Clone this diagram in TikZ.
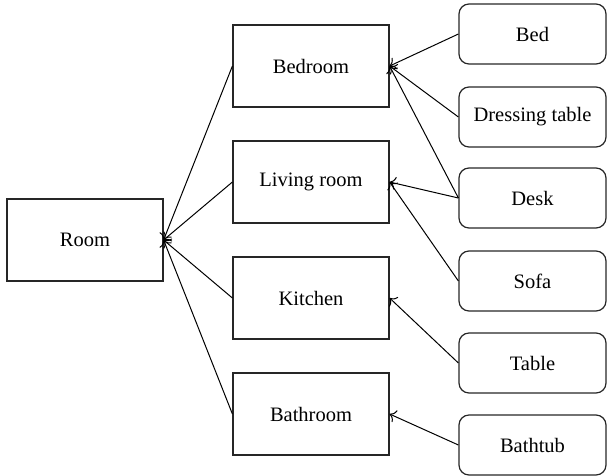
\documentclass[tikz,border=0pt]{standalone}
\usepackage{fontspec}
\setmainfont{Liberation Serif}
\usetikzlibrary{arrows.meta}
\begin{document}
\begin{tikzpicture}[x=1pt,y=-1pt,
  font=\fontsize{20.5}{24}\selectfont,
  roombox/.style={draw=black!85, line width=1.2pt, minimum width=156pt, minimum height=82pt, inner sep=0pt},
  itembox/.style={draw=black!85, line width=1.2pt, rounded corners=10pt, minimum width=147pt, minimum height=60pt, inner sep=0pt},
  link/.style={draw=black, line width=1pt, -{To[length=6pt,width=13pt]}}]
\useasboundingbox (0,0) rectangle (608,475);

% category on the left
\node[roombox] (room) at (85,240) {Room};

% rooms
\node[roombox] (bedroom)  at (311,66)  {Bedroom};
\node[roombox] (living)   at (311,182) {Living room};
\node[roombox] (kitchen)  at (311,298) {Kitchen};
\node[roombox] (bathroom) at (311,414) {Bathroom};

% furniture
\node[itembox] (bed)     at (532.5,34)  {Bed};
\node[itembox] (dress)   at (532.5,117) {Dressing table};
\node[itembox] (desk)    at (532.5,198) {Desk};
\node[itembox] (sofa)    at (532.5,281) {Sofa};
\node[itembox] (table)   at (532.5,363) {Table};
\node[itembox] (bathtub) at (532.5,445) {Bathtub};

% rooms belong to the room category
\foreach \r in {bedroom,living,kitchen,bathroom}
  \draw[link] (\r.west) -- (room.east);

% furniture placed in rooms
\draw[link] (bed.west)     -- (bedroom.east);
\draw[link] (dress.west)   -- (bedroom.east);
\draw[link] (desk.west)    -- (bedroom.east);
\draw[link] (desk.west)    -- (living.east);
\draw[link] (sofa.west)    -- (living.east);
\draw[link] (table.west)   -- (kitchen.east);
\draw[link] (bathtub.west) -- (bathroom.east);
\end{tikzpicture}
\end{document}
